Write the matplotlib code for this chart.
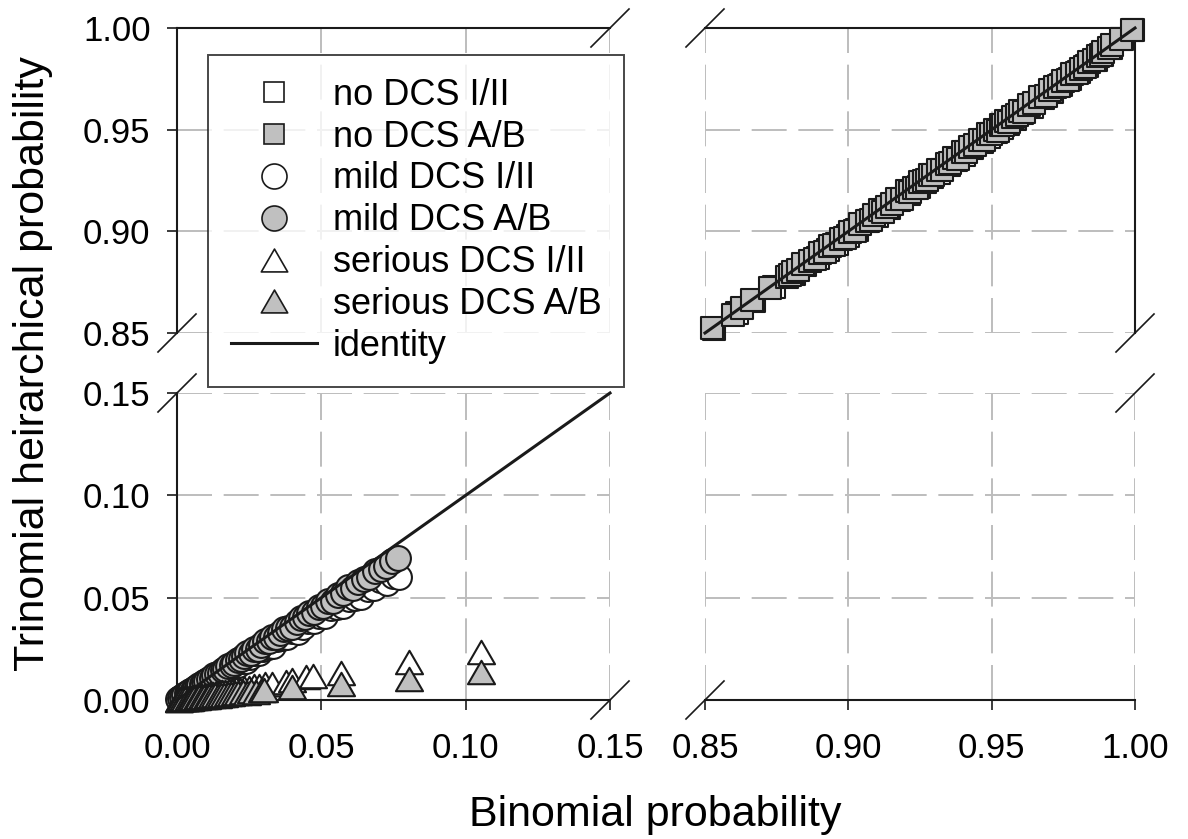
import numpy as np
import matplotlib.pyplot as plt
from matplotlib.lines import Line2D
from matplotlib.path import Path

plt.rcParams['font.family'] = ['Liberation Sans', 'DejaVu Sans']

# ---- data ----
# no DCS (upper-right panel)
nodcs_ab_x = [0.8523, 0.8599, 0.8628, 0.8663, 0.8727, 0.8785, 0.8797, 0.8808, 0.8826, 0.8843,
              0.8866, 0.8884, 0.8901, 0.8918, 0.8936, 0.8951, 0.8975, 0.8990, 0.9006, 0.9023,
              0.9041, 0.9064, 0.9079, 0.9090, 0.9111, 0.9122, 0.9134, 0.9152, 0.9170, 0.9186,
              0.9204, 0.9215, 0.9228, 0.9239, 0.9250, 0.9263, 0.9274, 0.9285, 0.9297, 0.9312,
              0.9326, 0.9343, 0.9355, 0.9370, 0.9384, 0.9400, 0.9412, 0.9425, 0.9441, 0.9460,
              0.9473, 0.9487, 0.9498, 0.9510, 0.9521, 0.9532, 0.9541, 0.9550, 0.9562, 0.9575,
              0.9588, 0.9600, 0.9614, 0.9630, 0.9648, 0.9670, 0.9690, 0.9705, 0.9720, 0.9736,
              0.9750, 0.9766, 0.9780, 0.9797, 0.9810, 0.9826, 0.9840, 0.9856, 0.9870, 0.9882,
              0.9890, 0.9910, 0.9920, 0.9950, 0.9990]
nodcs_ab_y = [0.8523, 0.8590, 0.8621, 0.8660, 0.8720, 0.8776, 0.8785, 0.8801, 0.8811, 0.8840,
              0.8855, 0.8866, 0.8893, 0.8897, 0.8930, 0.8935, 0.8962, 0.8966, 0.8998, 0.9004,
              0.9035, 0.9052, 0.9057, 0.9081, 0.9103, 0.9097, 0.9121, 0.9134, 0.9160, 0.9159,
              0.9197, 0.9195, 0.9215, 0.9211, 0.9241, 0.9246, 0.9250, 0.9276, 0.9276, 0.9300,
              0.9300, 0.9333, 0.9336, 0.9361, 0.9356, 0.9389, 0.9390, 0.9415, 0.9425, 0.9450,
              0.9448, 0.9478, 0.9477, 0.9499, 0.9494, 0.9524, 0.9521, 0.9541, 0.9538, 0.9562,
              0.9570, 0.9590, 0.9588, 0.9622, 0.9633, 0.9661, 0.9668, 0.9694, 0.9712, 0.9717,
              0.9741, 0.9743, 0.9772, 0.9781, 0.9800, 0.9806, 0.9833, 0.9842, 0.9862, 0.9865,
              0.9884, 0.9903, 0.9915, 0.9946, 0.9990]
nodcs_i_x = [0.8530, 0.8612, 0.8672, 0.8740, 0.8812, 0.8850, 0.8893, 0.8928, 0.8960, 0.8998,
             0.9030, 0.9070, 0.9100, 0.9143, 0.9178, 0.9210, 0.9245, 0.9268, 0.9292, 0.9318,
             0.9350, 0.9377, 0.9405, 0.9433, 0.9466, 0.9492, 0.9515, 0.9537, 0.9556, 0.9581,
             0.9607, 0.9640, 0.9680, 0.9712, 0.9743, 0.9773, 0.9803, 0.9833, 0.9863, 0.9886,
             0.9915, 0.9955, 0.9992]
nodcs_i_y = [0.8522, 0.8600, 0.8656, 0.8726, 0.8792, 0.8832, 0.8871, 0.8909, 0.8936, 0.8977,
             0.9005, 0.9050, 0.9077, 0.9116, 0.9156, 0.9185, 0.9217, 0.9245, 0.9266, 0.9289,
             0.9326, 0.9350, 0.9375, 0.9408, 0.9438, 0.9462, 0.9489, 0.9508, 0.9529, 0.9551,
             0.9582, 0.9612, 0.9656, 0.9686, 0.9721, 0.9748, 0.9783, 0.9811, 0.9845, 0.9866,
             0.9901, 0.9945, 0.9988]

# mild DCS (lower-left panel)
mild_ab_x = [0.0005, 0.0012, 0.0018, 0.0025, 0.0033, 0.0039, 0.0046, 0.0054, 0.0061, 0.0069,
             0.0077, 0.0085, 0.0094, 0.0102, 0.0111, 0.0120, 0.0129, 0.0139, 0.0148, 0.0158,
             0.0168, 0.0178, 0.0189, 0.0199, 0.0210, 0.0221, 0.0232, 0.0244, 0.0255, 0.0267,
             0.0279, 0.0291, 0.0304, 0.0317, 0.0330, 0.0343, 0.0357, 0.0371, 0.0385, 0.0399,
             0.0414, 0.0429, 0.0444, 0.0459, 0.0475, 0.0491, 0.0507, 0.0523, 0.0540, 0.0557,
             0.0574, 0.0592, 0.0610, 0.0628, 0.0647, 0.0666, 0.0685, 0.0705, 0.0725, 0.0745,
             0.0766]
mild_ab_y = [0.0005, 0.0011, 0.0017, 0.0023, 0.0032, 0.0036, 0.0044, 0.0050, 0.0059, 0.0063,
             0.0072, 0.0078, 0.0089, 0.0092, 0.0103, 0.0109, 0.0121, 0.0128, 0.0133, 0.0147,
             0.0153, 0.0167, 0.0170, 0.0183, 0.0195, 0.0199, 0.0213, 0.0229, 0.0232, 0.0248,
             0.0251, 0.0268, 0.0286, 0.0288, 0.0307, 0.0309, 0.0328, 0.0345, 0.0350, 0.0359,
             0.0381, 0.0403, 0.0404, 0.0427, 0.0428, 0.0452, 0.0461, 0.0486, 0.0486, 0.0512,
             0.0522, 0.0551, 0.0549, 0.0578, 0.0589, 0.0599, 0.0630, 0.0642, 0.0653, 0.0678,
             0.0694]
mild_i_x = [0.0007, 0.0015, 0.0023, 0.0031, 0.0040, 0.0049, 0.0058, 0.0068, 0.0078, 0.0088,
            0.0099, 0.0110, 0.0121, 0.0133, 0.0145, 0.0157, 0.0170, 0.0183, 0.0196, 0.0210,
            0.0224, 0.0238, 0.0253, 0.0268, 0.0283, 0.0299, 0.0315, 0.0331, 0.0348, 0.0365,
            0.0382, 0.0400, 0.0418, 0.0436, 0.0455, 0.0474, 0.0493, 0.0513, 0.0533, 0.0553,
            0.0574, 0.0595, 0.0616, 0.0638, 0.0660, 0.0682, 0.0704, 0.0727, 0.0750, 0.0770]
mild_i_y = [0.0006, 0.0013, 0.0021, 0.0027, 0.0036, 0.0042, 0.0051, 0.0057, 0.0068, 0.0075,
            0.0082, 0.0095, 0.0102, 0.0109, 0.0123, 0.0130, 0.0146, 0.0148, 0.0165, 0.0172,
            0.0190, 0.0190, 0.0210, 0.0230, 0.0229, 0.0251, 0.0258, 0.0265, 0.0296, 0.0303,
            0.0309, 0.0336, 0.0334, 0.0358, 0.0387, 0.0384, 0.0409, 0.0410, 0.0448, 0.0453,
            0.0459, 0.0494, 0.0499, 0.0504, 0.0541, 0.0546, 0.0584, 0.0574, 0.0608, 0.0601]

# serious DCS (lower-left panel)
ser_i_x = [0.0006, 0.0012, 0.0019, 0.0026, 0.0033, 0.0040, 0.0047, 0.0055, 0.0063, 0.0071,
           0.0079, 0.0088, 0.0097, 0.0106, 0.0115, 0.0125, 0.0135, 0.0145, 0.0156, 0.0167,
           0.0179, 0.0191, 0.0204, 0.0218, 0.0233, 0.0249, 0.0266, 0.0285, 0.0306, 0.0330,
           0.0378, 0.0400, 0.0447, 0.0470, 0.0568, 0.0804, 0.1053]
ser_i_y = [0.0002, 0.0003, 0.0005, 0.0006, 0.0008, 0.0010, 0.0012, 0.0013, 0.0016, 0.0017,
           0.0021, 0.0020, 0.0024, 0.0025, 0.0030, 0.0029, 0.0034, 0.0035, 0.0041, 0.0038,
           0.0045, 0.0046, 0.0053, 0.0050, 0.0058, 0.0060, 0.0069, 0.0066, 0.0077, 0.0079,
           0.0090, 0.0098, 0.0110, 0.0117, 0.0134, 0.0184, 0.0235]
ser_ab_x = [0.0008, 0.0015, 0.0022, 0.0029, 0.0037, 0.0044, 0.0052, 0.0060, 0.0068, 0.0077,
            0.0085, 0.0094, 0.0103, 0.0112, 0.0122, 0.0132, 0.0142, 0.0153, 0.0164, 0.0175,
            0.0187, 0.0200, 0.0213, 0.0227, 0.0242, 0.0258, 0.0275, 0.0293, 0.0300, 0.0400,
            0.0568, 0.0804, 0.1053]
ser_ab_y = [0.0001, 0.0003, 0.0003, 0.0005, 0.0006, 0.0007, 0.0008, 0.0010, 0.0010, 0.0013,
            0.0013, 0.0016, 0.0015, 0.0019, 0.0018, 0.0022, 0.0021, 0.0026, 0.0025, 0.0030,
            0.0028, 0.0034, 0.0032, 0.0039, 0.0036, 0.0044, 0.0041, 0.0050, 0.0050, 0.0063,
            0.0078, 0.0105, 0.0137]

labels = ['no DCS I/II', 'no DCS A/B', 'mild DCS I/II', 'mild DCS A/B',
          'serious DCS I/II', 'serious DCS A/B', 'identity']
low_ticks = [0.00, 0.05, 0.10, 0.15]
high_ticks = [0.85, 0.90, 0.95, 1.00]

# ---- figure layout (pixel boxes) ----
W, H = 1188, 839
fig = plt.figure(figsize=(W / 100, H / 100), dpi=100)


def box(l, t, r, b):
    return [l / W, 1 - b / H, (r - l) / W, (b - t) / H]


ax_tl = fig.add_axes(box(177, 28, 610, 333))
ax_tr = fig.add_axes(box(705, 28, 1135, 333))
ax_bl = fig.add_axes(box(177, 393, 610, 700))
ax_br = fig.add_axes(box(705, 393, 1135, 700))

GRAY = '#c0c0c0'
INK = '#1a1a1a'
tri = Path([(-1, -0.866), (1, -0.866), (0, 0.866), (-1, -0.866)],
           [Path.MOVETO, Path.LINETO, Path.LINETO, Path.CLOSEPOLY])
grid_kw = dict(color='#bdbdbd', linewidth=1.4, linestyle=(0, (18, 6)))

for ax, xl, yl in [(ax_tl, (0, 0.15), (0.85, 1.0)),
                   (ax_tr, (0.85, 1.0), (0.85, 1.0)),
                   (ax_bl, (0, 0.15), (0, 0.15)),
                   (ax_br, (0.85, 1.0), (0, 0.15))]:
    ax.set_xlim(*xl)
    ax.set_ylim(*yl)
    ax.set_xticks(low_ticks if xl[0] == 0 else high_ticks)
    ax.set_yticks(low_ticks if yl[0] == 0 else high_ticks)
    ax.grid(True, **grid_kw)
    ax.set_axisbelow(True)
    for s in ax.spines.values():
        s.set_visible(False)
        s.set_linewidth(1.5)
        s.set_color(INK)
    ax.tick_params(direction='out', length=7, width=1.2, labelsize=25, color=INK)
    ax.tick_params(axis='y', pad=12)
    ax.tick_params(axis='x', pad=16)
    ax.set_facecolor('none')
    ax.xaxis.set_major_formatter('{x:.2f}')
    ax.yaxis.set_major_formatter('{x:.2f}')

ax_tl.spines['left'].set_visible(True)
ax_tl.spines['top'].set_visible(True)
ax_tl.tick_params(bottom=False, labelbottom=False)
ax_tr.spines['top'].set_visible(True)
ax_tr.spines['right'].set_visible(True)
ax_tr.tick_params(bottom=False, labelbottom=False, left=False, labelleft=False)
ax_bl.spines['left'].set_visible(True)
ax_bl.spines['bottom'].set_visible(True)
ax_br.spines['bottom'].set_visible(True)
ax_br.tick_params(left=False, labelleft=False)

# ---- points ----
mk = dict(edgecolors=INK, linewidths=1.5, clip_on=False)
ax_tr.scatter(nodcs_i_x, nodcs_i_y, s=235, marker='s', facecolors='white', zorder=3, **mk)
ax_tr.scatter(nodcs_ab_x, nodcs_ab_y, s=235, marker='s', facecolors=GRAY, zorder=4, **mk)
ax_bl.scatter(mild_i_x, mild_i_y, s=320, marker='o', facecolors='white', zorder=3, **mk)
ax_bl.scatter(mild_ab_x, mild_ab_y, s=320, marker='o', facecolors=GRAY, zorder=4, **mk)
ax_bl.scatter(ser_i_x, ser_i_y, s=380, marker=tri, facecolors='white', zorder=5, **mk)
ax_bl.scatter(ser_ab_x, ser_ab_y, s=380, marker=tri, facecolors=GRAY, zorder=6, **mk)

ax_bl.plot(low_ticks, low_ticks, color=INK, linewidth=2.2, zorder=7, clip_on=False)
ax_tr.plot(high_ticks, high_ticks, color=INK, linewidth=2.2, zorder=7, clip_on=False)

# ---- break marks ----
d = 19
for (px, py) in [(610, 28), (177, 333), (705, 28), (1135, 333),
                 (177, 393), (610, 700), (1135, 393), (705, 700)]:
    fig.add_artist(Line2D([(px - d) / W, (px + d) / W],
                          [1 - (py + d) / H, 1 - (py - d) / H],
                          color=INK, linewidth=1.2))

# ---- legend ----
hkw = dict(linestyle='none', markeredgecolor=INK, markeredgewidth=1.2)
handles = [
    Line2D([], [], marker='s', markersize=15, markerfacecolor='white', **hkw),
    Line2D([], [], marker='s', markersize=15, markerfacecolor=GRAY, **hkw),
    Line2D([], [], marker='o', markersize=18, markerfacecolor='white', **hkw),
    Line2D([], [], marker='o', markersize=18, markerfacecolor=GRAY, **hkw),
    Line2D([], [], marker=tri, markersize=19, markerfacecolor='white', **hkw),
    Line2D([], [], marker=tri, markersize=19, markerfacecolor=GRAY, **hkw),
    Line2D([], [], color=INK, linewidth=2.2),
]
leg = fig.legend(handles, labels, loc='upper left',
                 bbox_to_anchor=(208 / W, 1 - 55 / H), fontsize=26,
                 frameon=True, fancybox=False, edgecolor=INK,
                 handlelength=2.4, handletextpad=0.42, labelspacing=0.19,
                 borderpad=0.63, borderaxespad=0)
leg.get_frame().set_linewidth(1.4)

fig.text(655 / W, 1 - 815 / H, 'Binomial probability', fontsize=31,
         ha='center', va='center')
fig.text(33 / W, 1 - 364 / H, 'Trinomial heirarchical probability', fontsize=31,
         ha='center', va='center', rotation=90)

fig.savefig('out.png', dpi=100)
